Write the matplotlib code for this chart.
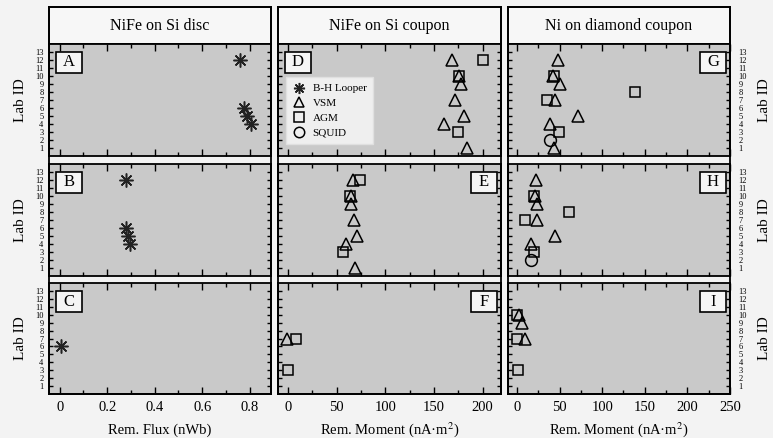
import matplotlib
matplotlib.use("Agg")
import matplotlib.pyplot as plt
from matplotlib.lines import Line2D
from matplotlib.patches import Rectangle

plt.rcParams['font.family'] = ['Liberation Serif', 'DejaVu Serif']
plt.rcParams['mathtext.fontset'] = 'stix'

W, H = 773, 438

# column titles and x-axis setup
titles = ["NiFe on Si disc", "NiFe on Si coupon", "Ni on diamond coupon"]
xlabels = ["Rem. Flux (nWb)", "Rem. Moment (nA·m$^{2}$)", "Rem. Moment (nA·m$^{2}$)"]
xticks = [[0, 0.2, 0.4, 0.6, 0.8], [0, 50, 100, 150, 200], [0, 50, 100, 150, 200, 250]]
xticklabels = [["0", "0.2", "0.4", "0.6", "0.8"],
               ["0", "50", "100", "150", "200"],
               ["0", "50", "100", "150", "200", "250"]]
xlims = [(-0.045, 0.89), (-10.5, 219), (-10.5, 250)]
lab_ids = list(range(1, 14))
panel_letters = [["A", "B", "C"], ["D", "E", "F"], ["G", "H", "I"]]

# data: (lab id list, value list) per panel and method
looper = {
    "A": ([12, 6, 5, 4], [0.761, 0.775, 0.789, 0.807]),
    "B": ([12, 6, 5, 4], [0.281, 0.278, 0.289, 0.296]),
    "C": ([6], [0.005]),
}
vsm = {
    "D": ([12, 10, 9, 7, 5, 4, 1], [169, 176, 178, 172, 181, 160, 184]),
    "E": ([12, 10, 9, 7, 5, 4, 1], [67, 65, 65, 68, 70.5, 59.5, 69]),
    "F": ([7], [-1.5]),
    "G": ([12, 10, 9, 7, 5, 4, 1], [48, 42, 50.5, 45, 72, 39, 44]),
    "H": ([12, 10, 9, 7, 5, 4], [22.5, 21, 24, 23, 45, 16]),
    "I": ([10, 9, 7], [2, 6, 9]),
}
agm = {
    "D": ([12, 10, 3], [200, 176, 175]),
    "E": ([12, 10, 3], [74, 64, 56]),
    "F": ([7, 3], [8, 0]),
    "G": ([10, 8, 7, 3], [44, 139, 35, 49]),
    "H": ([10, 8, 7, 3], [19.5, 61, 10, 19.5]),
    "I": ([10, 7, 3], [0, 0, 1]),
}
squid = {
    "G": ([2], [39]),
    "H": ([2], [17]),
}

col_x = [(49, 271), (278, 501), (508, 730)]
row_y = [(44, 156), (164, 276), (283, 394)]
title_y = (7, 44)

plot_bg = '#c9c9c9'
fig = plt.figure(figsize=(W / 100, H / 100), dpi=100, facecolor='#f3f3f3')


def frac(x0, x1, y0, y1):
    return [x0 / W, 1 - y1 / H, (x1 - x0) / W, (y1 - y0) / H]


ast = dict(marker=(8, 2, 0), ms=10, mec='#222222', mew=1.1, ls='none')
tri = dict(marker='^', ms=8, mfc='none', mec='black', mew=1.1, ls='none')
sq = dict(marker='s', ms=7.5, mfc='none', mec='black', mew=1.1, ls='none')
circ = dict(marker='o', ms=8.5, mfc='none', mec='black', mew=1.1, ls='none')

for c in range(3):
    x0, x1 = col_x[c]
    # title box
    tax = fig.add_axes(frac(x0, x1, *title_y))
    tax.set_facecolor('#f7f7f7')
    tax.set_xticks([])
    tax.set_yticks([])
    for s in tax.spines.values():
        s.set_linewidth(1.3)
    tax.text(0.5, 0.5, titles[c], ha='center', va='center', fontsize=11.5,
             transform=tax.transAxes)

    for r in range(3):
        y0, y1 = row_y[r]
        ax = fig.add_axes(frac(x0, x1, y0, y1))
        ax.set_facecolor(plot_bg)
        letter = panel_letters[c][r]
        if letter in looper:
            ax.plot(looper[letter][1], looper[letter][0], **ast)
        if letter in vsm:
            ax.plot(vsm[letter][1], vsm[letter][0], **tri)
        if letter in agm:
            ax.plot(agm[letter][1], agm[letter][0], **sq)
        if letter in squid:
            ax.plot(squid[letter][1], squid[letter][0], **circ)

        ax.set_xlim(xlims[c])
        ax.set_ylim(0, 14)
        ax.set_xticks(xticks[c])
        step = xticks[c][1] - xticks[c][0]
        minors = [t + step / 2 for t in xticks[c] if t + step / 2 < xlims[c][1]]
        ax.set_xticks(minors, minor=True)
        ax.set_yticks(lab_ids)
        ax.tick_params(axis='both', which='both', direction='in', top=True,
                       right=True, bottom=True, left=True, width=1)
        ax.tick_params(axis='x', which='major', length=5)
        ax.tick_params(axis='x', which='minor', length=3)
        ax.tick_params(axis='y', which='major', length=3)
        for s in ax.spines.values():
            s.set_linewidth(1.3)

        if r == 2:
            ax.set_xticklabels(xticklabels[c], fontsize=10.5)
            ax.tick_params(axis='x', pad=5)
            ax.set_xlabel(xlabels[c], fontsize=10.5, va='baseline')
            ax.xaxis.set_label_coords(0.5, -(434 - y1) / (y1 - y0))
        else:
            ax.set_xticklabels([])

        if c == 0:
            ax.set_yticklabels([str(i) for i in lab_ids], fontsize=6)
            ax.tick_params(axis='y', labelleft=True, labelright=False, pad=4)
            ax.set_ylabel("Lab ID", fontsize=11, labelpad=6)
        elif c == 2:
            ax.set_yticklabels([str(i) for i in lab_ids], fontsize=6)
            ax.tick_params(axis='y', labelleft=False, labelright=True, pad=6)
            ax.yaxis.set_label_position('right')
            ax.set_ylabel("Lab ID", fontsize=11, labelpad=8)
        else:
            ax.set_yticklabels([])

        # panel letter box
        pw, ph = x1 - x0, y1 - y0
        bw, bh = 26, 21
        if letter in ("A", "B", "C", "D"):
            bx = 7
        else:
            bx = pw - 4 - bw
        by = 8
        ax.add_patch(Rectangle((bx / pw, 1 - (by + bh) / ph), bw / pw, bh / ph,
                               transform=ax.transAxes, facecolor='#f5f5f5',
                               edgecolor='black', lw=1.2, zorder=5))
        ax.text((bx + bw / 2) / pw, 1 - (by + bh / 2) / ph, letter,
                transform=ax.transAxes, ha='center', va='center',
                fontsize=12, zorder=6)

        if letter == "D":
            handles = [Line2D([], [], **dict(ast, ms=8)),
                       Line2D([], [], **dict(tri, ms=7.5)),
                       Line2D([], [], **dict(sq, ms=6.5)),
                       Line2D([], [], **dict(circ, ms=7.5))]
            leg = ax.legend(handles, ["B-H Looper", "VSM", "AGM", "SQUID"],
                            loc='upper left', bbox_to_anchor=(8 / pw, 1 - 33 / ph),
                            borderaxespad=0, fontsize=8, fancybox=False,
                            framealpha=1, facecolor='#efefef', edgecolor='#e0e0e0',
                            handlelength=1.2, handletextpad=0.6, labelspacing=0.45,
                            borderpad=0.6)
            leg.set_zorder(7)

    # outer column frame
    fig.patches.append(Rectangle((x0 / W, 1 - row_y[2][1] / H), (x1 - x0) / W,
                                 (row_y[2][1] - title_y[0]) / H,
                                 transform=fig.transFigure, fill=False,
                                 edgecolor='black', lw=1.3, zorder=10))

fig.savefig("out.png", dpi=100, facecolor=fig.get_facecolor())
